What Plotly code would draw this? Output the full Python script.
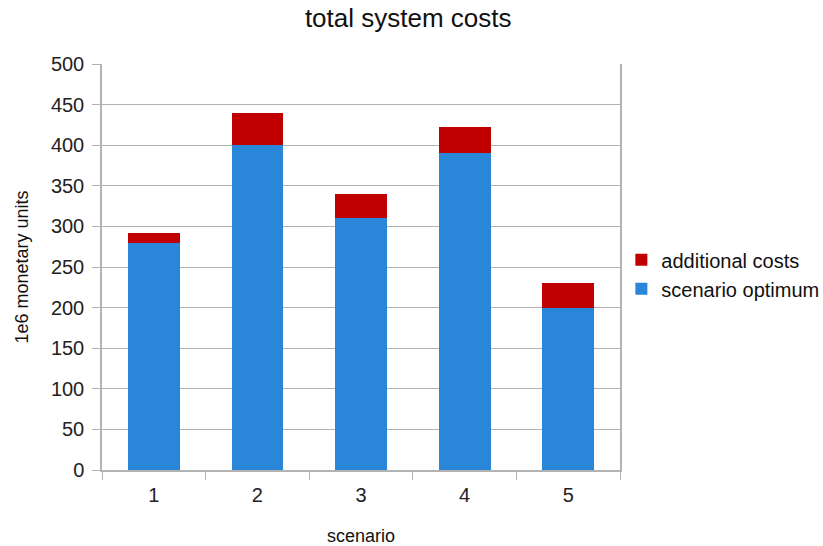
import plotly.graph_objects as go

scenarios = ["1", "2", "3", "4", "5"]
scenario_optimum = [280, 400, 310, 390, 200]
additional_costs = [12, 40, 30, 32, 30]

y_ticks = list(range(0, 501, 50))

fig = go.Figure()
fig.add_trace(go.Bar(x=scenarios, y=scenario_optimum, name="scenario optimum",
                     marker=dict(color="#2a86d9", line=dict(width=0)), width=0.5))
fig.add_trace(go.Bar(x=scenarios, y=additional_costs, name="additional costs",
                     marker=dict(color="#c00000", line=dict(width=0)), width=0.5))

fig.update_layout(
    barmode="stack",
    width=823, height=546,
    margin=dict(l=102, r=203, t=64, b=76, autoexpand=False),
    paper_bgcolor="white", plot_bgcolor="white",
    font=dict(family="Liberation Sans, Arial, sans-serif", size=20, color="#222"),
    title=dict(text="total system costs", x=0.496, xanchor="center", y=0.967, yanchor="middle",
               font=dict(size=26, color="#111")),
    legend=dict(xref="container", yref="container", x=0.755, xanchor="left",
                y=0.4975, yanchor="middle", traceorder="reversed",
                bgcolor="rgba(0,0,0,0)",
                font=dict(size=20, color="#111"), tracegroupgap=0, itemwidth=30),
    showlegend=True,
)
fig.update_xaxes(
    type="category", showgrid=False, showline=True, linecolor="#b3b3b3", linewidth=1.5,
    ticks="outside", tickson="boundaries", ticklen=8, tickcolor="#b3b3b3",
    ticklabelstandoff=6, automargin=False,
    title=dict(text="scenario", font=dict(size=18, color="#111"), standoff=26),
    tickfont=dict(size=20, color="#222"),
)
fig.update_yaxes(
    range=[0, 500], tickvals=y_ticks, showgrid=True, gridcolor="#b3b3b3", gridwidth=1,
    showline=True, linecolor="#b3b3b3", linewidth=1.5, mirror=True,
    ticks="outside", ticklen=8, tickcolor="#b3b3b3", zeroline=False,
    ticklabelstandoff=4, automargin=False,
    title=dict(text="1e6 monetary units", font=dict(size=18, color="#111"), standoff=18),
    tickfont=dict(size=20, color="#222"),
)

fig.write_html("out.html")
